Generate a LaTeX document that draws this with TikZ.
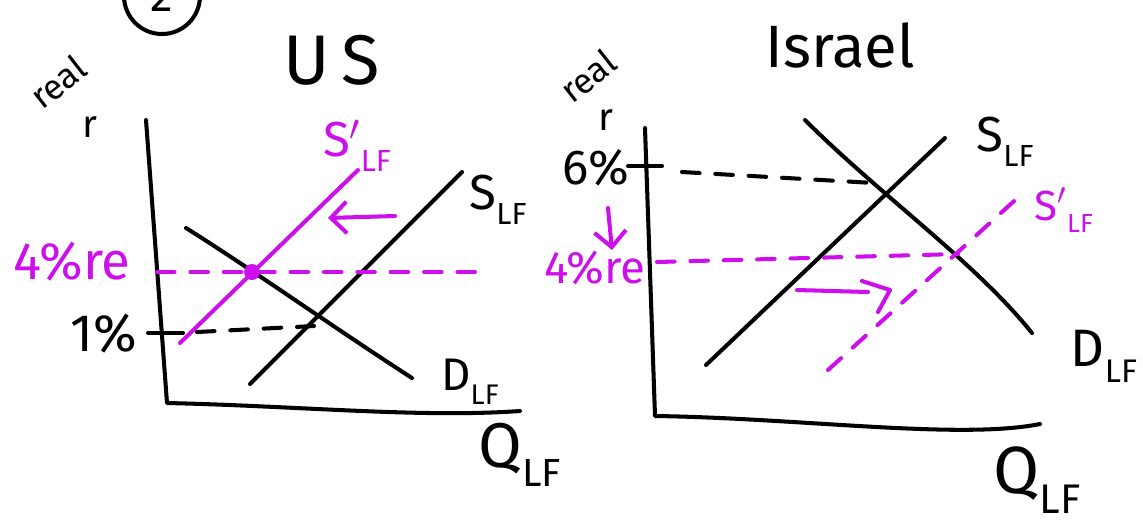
\documentclass[tikz,border=0pt]{standalone}
\usepackage{fontspec}
\setmainfont{Fira Sans}
\usetikzlibrary{arrows.meta}
\definecolor{mag}{RGB}{205,15,235}
\newcommand\sbs[1]{\raisebox{-0.3em}{\scalebox{0.62}{#1}}}
\newcommand\fs[1]{\fontsize{#1}{#1}\selectfont}
\begin{document}
\begin{tikzpicture}[x=0.02cm,y=-0.02cm,line width=2.3pt,line cap=round,line join=round,
  ax/.style={black},
  curve/.style={black},
  shift2/.style={mag},
  hdash/.style={dash pattern=on 10pt off 9pt},
  lbl/.style={inner sep=0pt,anchor=center},
  barb/.style={-{Straight Barb[length=9pt,width=18pt,line width=2.3pt]}}]
\useasboundingbox (0,0) rectangle (1143,529);
\clip (0,0) rectangle (1143,529);
\fill[white] (0,0) rectangle (1143,529);

% header fragment (cut at the top edge)
\node[draw,circle,minimum size=76*0.02cm,line width=2.3pt,lbl] (num) at (162,-4) {\fs{26}2};

% ---------------- US graph ----------------
\node[lbl,rotate=38] (lreal) at (58,82) {\fs{20}real};
\node[lbl] (lr) at (90,127) {\fs{22}r};
\node[lbl] (us) at (332,60) {\fs{40}U\,S};

\coordinate (lytop) at (146,120);
\coordinate (lo) at (167,403);
\coordinate (lxend) at (520,411);
\draw[ax] (lytop) -- (lo) .. controls (300,406) and (420,418) .. (lxend);

\coordinate (ld1) at (186,228);
\coordinate (ld2) at (412,378);
\draw[curve] (ld1) .. controls (250,268) and (330,325) .. (ld2);
\coordinate (ls1) at (250,384);
\coordinate (ls2) at (462,172);
\draw[curve] (ls1) -- (ls2);
\coordinate (lsp1) at (180,343);
\coordinate (lsp2) at (358,170);
\draw[shift2] (lsp1) -- (lsp2);

\coordinate (lh1) at (157,272);
\coordinate (lh2) at (485,272);
\draw[shift2,hdash] (lh1) -- (lh2);
\fill[mag] (252,272) circle (8);

\coordinate (la1) at (395,216);
\coordinate (la2) at (328,218);
\draw[shift2,barb] (la1) -- (la2);

\coordinate (lt1) at (148,333);
\coordinate (lt2) at (183,333);
\draw (lt1) -- (lt2);
\coordinate (ld3) at (197,332);
\coordinate (ld4) at (314,326);
\draw[hdash] (ld3) -- (ld4);

\node[lbl] (one) at (104,334) {\fs{30}1\%};
\node[lbl,text=mag] (lfr) at (72,262) {\fs{30}4\%re};
\node[lbl,text=mag] (lsplbl) at (357,146) {\fs{28}S$'$\sbs{LF}};
\node[lbl] (lslbl) at (498,200) {\fs{28}S\sbs{LF}};
\node[lbl] (ldlbl) at (470,382) {\fs{26}D\sbs{LF}};
\node[lbl] (lqlbl) at (520,455) {\fs{36}Q\sbs{LF}};

% ---------------- Israel graph ----------------
\node[lbl,rotate=38] (rreal) at (588,76) {\fs{20}real};
\node[lbl] (rr) at (606,120) {\fs{22}r};
\node[lbl] (isr) at (840,45) {\fs{34}Israel};

\coordinate (rytop) at (645,128);
\coordinate (ro) at (655,416);
\coordinate (rxend) at (1040,424);
\draw[ax] (rytop) -- (ro) .. controls (800,418) and (960,440) .. (rxend);

\coordinate (rt1) at (628,166);
\coordinate (rt2) at (662,166);
\draw (rt1) -- (rt2);
\coordinate (rd3) at (682,172);
\coordinate (rd4) at (874,183);
\draw[hdash] (rd3) -- (rd4);

\coordinate (rs1) at (706,365);
\coordinate (rs2) at (945,138);
\draw[curve] (rs1) -- (rs2);
\coordinate (rdd1) at (805,120);
\coordinate (rdd2) at (1032,333);
\draw[curve] (rdd1) .. controls (880,195) and (975,262) .. (rdd2);
\coordinate (rsp1) at (828,370);
\coordinate (rsp2) at (1024,192);
\draw[shift2,hdash] (rsp1) -- (rsp2);

\coordinate (rh1) at (657,262);
\coordinate (rh2) at (958,254);
\draw[shift2,hdash] (rh1) -- (rh2);

\coordinate (ra1) at (608,208);
\coordinate (ra2) at (612,250);
\draw[shift2,barb] (ra1) -- (ra2);

\coordinate (rb1) at (797,290);
\coordinate (rb2) at (868,292);
\draw[shift2] (rb1) -- (rb2);
\coordinate (rb3) at (862,281);
\coordinate (rb4) at (890,290);
\coordinate (rb5) at (878,312);
\draw[shift2] (rb3) -- (rb4) -- (rb5);

\node[lbl] (six) at (596,168) {\fs{28}6\%};
\node[lbl,text=mag] (rfr) at (595,268) {\fs{26}4\%re};
\node[lbl] (rslbl) at (1005,142) {\fs{28}S\sbs{LF}};
\node[lbl,text=mag] (rsplbl) at (1064,210) {\fs{24}S$'$\sbs{LF}};
\node[lbl] (rdlbl) at (1104,356) {\fs{30}D\sbs{LF}};
\node[lbl] (rqlbl) at (1037,480) {\fs{38}Q\sbs{LF}};
\end{tikzpicture}
\end{document}
